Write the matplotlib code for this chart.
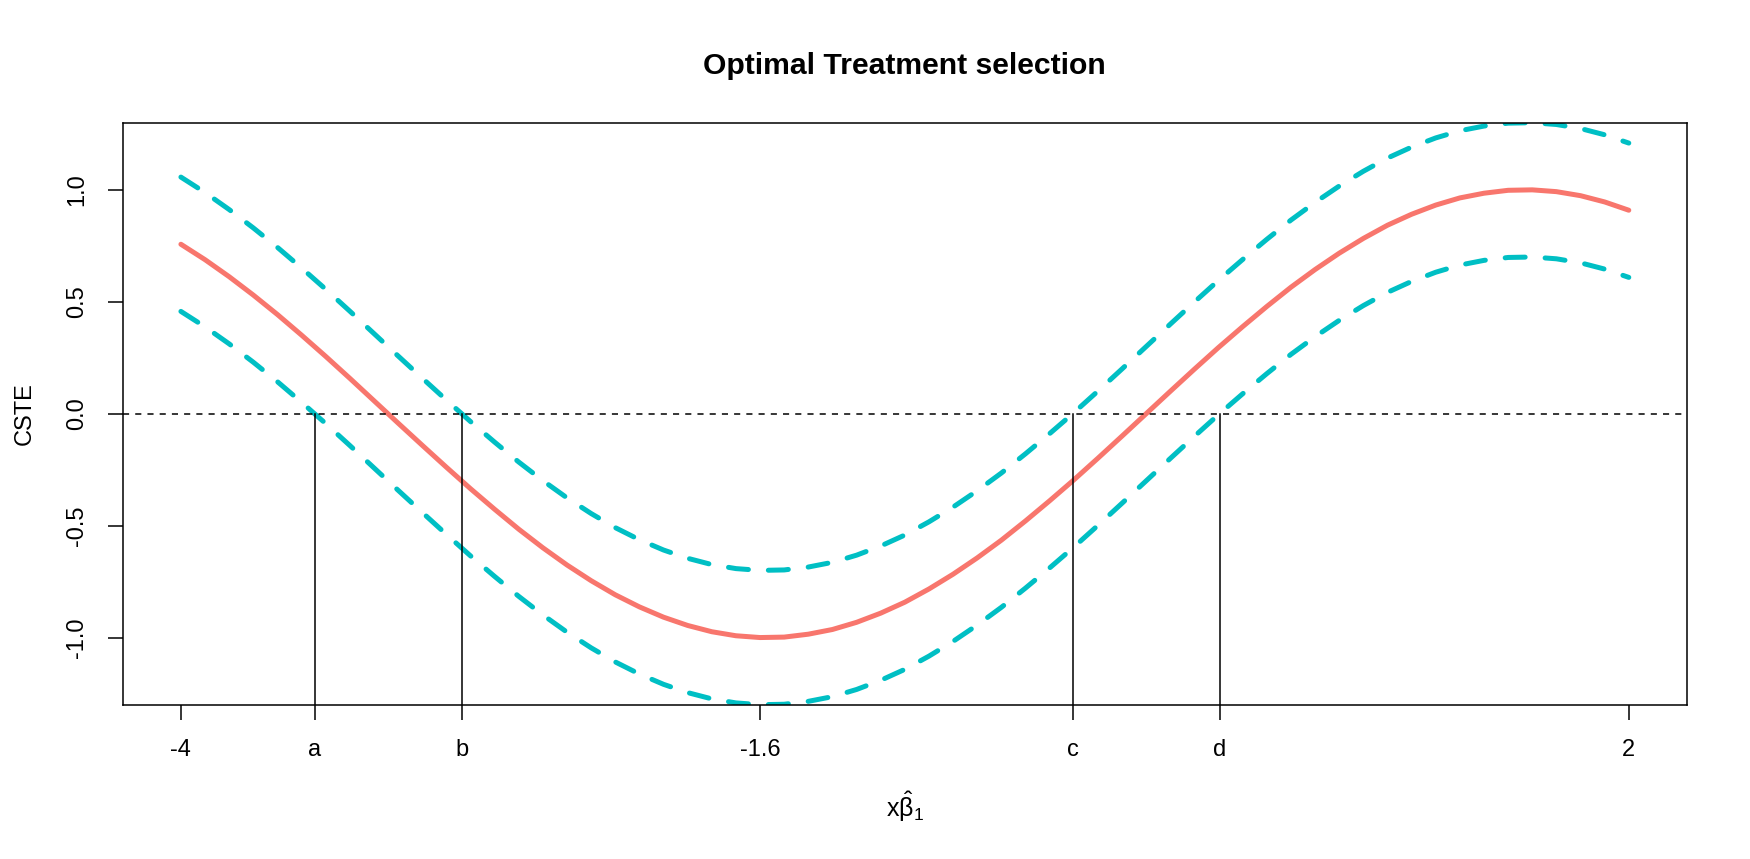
import matplotlib
matplotlib.use("Agg")
import matplotlib.pyplot as plt

plt.rcParams['font.family'] = ['Liberation Sans', 'DejaVu Sans']
plt.rcParams['mathtext.fontset'] = 'custom'
plt.rcParams['mathtext.rm'] = 'Liberation Sans'
plt.rcParams['mathtext.it'] = 'Liberation Sans:italic'

# x grid (step 0.1) and values
x = [round(-4 + 0.1 * i, 1) for i in range(61)]
cste = [0.757, 0.688, 0.612, 0.530, 0.443, 0.351, 0.256, 0.158, 0.058, -0.042,
        -0.141, -0.239, -0.335, -0.427, -0.516, -0.599, -0.676, -0.746, -0.809, -0.863,
        -0.909, -0.946, -0.974, -0.992, -1.000, -0.998, -0.985, -0.964, -0.932, -0.891,
        -0.842, -0.783, -0.717, -0.644, -0.565, -0.479, -0.389, -0.296, -0.199, -0.100,
        0.000, 0.100, 0.199, 0.296, 0.389, 0.479, 0.565, 0.644, 0.717, 0.783,
        0.842, 0.891, 0.932, 0.964, 0.985, 0.998, 1.000, 0.992, 0.974, 0.946, 0.909]
upper = [1.057, 0.988, 0.912, 0.830, 0.743, 0.651, 0.556, 0.458, 0.358, 0.258,
         0.159, 0.061, -0.035, -0.127, -0.216, -0.299, -0.376, -0.446, -0.509, -0.563,
         -0.609, -0.646, -0.674, -0.692, -0.700, -0.698, -0.685, -0.664, -0.632, -0.591,
         -0.542, -0.483, -0.417, -0.344, -0.265, -0.179, -0.089, 0.004, 0.101, 0.200,
         0.300, 0.400, 0.499, 0.596, 0.689, 0.779, 0.865, 0.944, 1.017, 1.083,
         1.142, 1.191, 1.232, 1.264, 1.285, 1.298, 1.300, 1.292, 1.274, 1.246, 1.209]
lower = [0.457, 0.388, 0.312, 0.230, 0.143, 0.051, -0.044, -0.142, -0.242, -0.342,
         -0.441, -0.539, -0.635, -0.727, -0.816, -0.899, -0.976, -1.046, -1.109, -1.163,
         -1.209, -1.246, -1.274, -1.292, -1.300, -1.298, -1.285, -1.264, -1.232, -1.191,
         -1.142, -1.083, -1.017, -0.944, -0.865, -0.779, -0.689, -0.596, -0.499, -0.400,
         -0.300, -0.200, -0.101, -0.004, 0.089, 0.179, 0.265, 0.344, 0.417, 0.483,
         0.542, 0.591, 0.632, 0.664, 0.685, 0.698, 0.700, 0.692, 0.674, 0.646, 0.609]

# cut points where the bands cross zero
cuts = [-3.446, -2.837, -0.305, 0.305]
xticks = [-4, -3.446, -2.837, -1.6, -0.305, 0.305, 2]
xticklabels = ['-4', 'a', 'b', '-1.6', 'c', 'd', '2']
yticks = [-1.0, -0.5, 0.0, 0.5, 1.0]
yticklabels = ['-1.0', '-0.5', '0.0', '0.5', '1.0']

fig = plt.figure(figsize=(17.5, 8.59), dpi=100)
ax = fig.add_axes([123 / 1750, 1 - 704.7 / 859, (1686.7 - 123) / 1750, (704.7 - 122.7) / 859])

ylo, yhi = -1.3, 1.3
band = dict(color='#00BFC4', lw=3.6, ls=(0, (4, 4)), dash_capstyle='round')
ax.plot(x, upper, **band)
ax.plot(x, lower, **band)
ax.plot(x, cste, color='#F8766D', lw=3.6, solid_capstyle='round')
ax.axhline(0, color='black', lw=1.1, ls=(0, (4, 4)))
for c in cuts:
    ax.plot([c, c], [ylo, 0], color='black', lw=1.1)

ax.set_xlim(-4.24, 2.24)
ax.set_ylim(ylo, yhi)
ax.set_xticks(xticks)
ax.set_xticklabels(xticklabels, fontsize=17)
ax.set_yticks(yticks)
ax.set_yticklabels(yticklabels, fontsize=17, rotation=90, va='center')
ax.tick_params(length=11, width=1.1, pad=14)
for s in ax.spines.values():
    s.set_linewidth(1.1)

ax.set_ylabel('CSTE', fontsize=17, labelpad=22)
ax.set_xlabel(r'$\mathrm{x}\hat{\mathrm{\beta}}_1$', fontsize=18, labelpad=20)
ax.set_title('Optimal Treatment selection', fontsize=21.7, fontweight='bold', pad=35)

fig.savefig('out.png', dpi=100)
